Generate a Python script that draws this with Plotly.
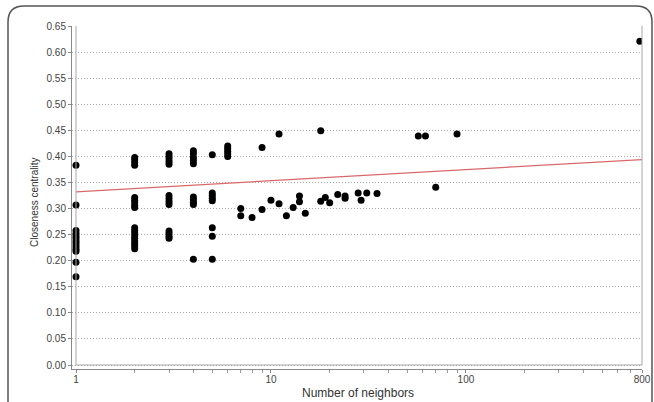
import math
import plotly.graph_objects as go

# ---------------- data ----------------
neighbors = (
    [1] * 13 + [2] * 18 + [3] * 13 + [4] * 10 + [5] * 8 + [6] * 5 +
    [7, 7, 8, 9, 9, 10, 11, 11, 12, 13, 14, 14, 15, 18, 18, 19, 20, 22, 24, 24,
     28, 29, 31, 35, 57, 62, 70, 90, 780]
)
closeness = (
    [0.383, 0.307, 0.258, 0.252, 0.247, 0.242, 0.237, 0.232, 0.227, 0.222, 0.218, 0.197, 0.169] +
    [0.398, 0.393, 0.388, 0.383, 0.321, 0.316, 0.311, 0.306, 0.302,
     0.263, 0.258, 0.253, 0.248, 0.243, 0.238, 0.233, 0.228, 0.223] +
    [0.405, 0.400, 0.395, 0.390, 0.385, 0.325, 0.319, 0.313, 0.308, 0.257, 0.252, 0.247, 0.243] +
    [0.411, 0.405, 0.398, 0.392, 0.386, 0.322, 0.317, 0.312, 0.308, 0.203] +
    [0.403, 0.330, 0.325, 0.320, 0.315, 0.263, 0.247, 0.203] +
    [0.420, 0.415, 0.410, 0.405, 0.400] +
    [0.300, 0.286, 0.283, 0.417, 0.298, 0.316, 0.443, 0.309, 0.286, 0.302, 0.324, 0.313,
     0.291, 0.449, 0.314, 0.321, 0.311, 0.327, 0.324, 0.320, 0.330, 0.316, 0.330, 0.329,
     0.439, 0.439, 0.341, 0.443, 0.621]
)
trend_x = [1, 800]
trend_y = [0.332, 0.394]

x_tickvals = [1, 10, 100, 800]
x_ticktext = ["1", "10", "100", "800"]
x_minor = [2, 3, 4, 5, 6, 7, 8, 9, 20, 30, 40, 50, 60, 70, 80, 90, 200, 300, 400, 500, 600, 700]
y_tickvals = [round(0.05 * i, 2) for i in range(14)]

# ---------------- geometry ----------------
W, H = 654, 402
L, R, T, B = 72, 12, 26, 33          # margins -> plot area 72..642 x 26..369
pw, ph = W - L - R, H - T - B
x_lo = -4 / 195.0                      # log range start (axis offset ~4px)
x_hi = math.log10(800)
y_lo = -4 / 521.5
y_hi = 0.6501

def px2paper(px, py):
    return (px - L) / pw, (H - B - py) / ph

def xpaper(v):
    return (math.log10(v) - x_lo) / (x_hi - x_lo)

def ypaper(v):
    return (v - y_lo) / (y_hi - y_lo)

font_family = "Liberation Sans, Arial, sans-serif"

fig = go.Figure()
fig.add_trace(go.Scatter(
    x=trend_x, y=trend_y, mode="lines",
    line=dict(color="#d9696b", width=1.2), hoverinfo="skip", showlegend=False))
fig.add_trace(go.Scatter(
    x=neighbors, y=closeness, mode="markers",
    marker=dict(color="black", size=7), showlegend=False))

# plot-area border (left, right, bottom)
border_color = "#a8a8a8"
x1p, x2p = xpaper(1), xpaper(800)
y0p, y1p = ypaper(0), ypaper(0.65)
shapes = [
    dict(type="line", xref="paper", yref="paper", x0=x1p, x1=x1p, y0=y0p, y1=y1p,
         line=dict(color=border_color, width=1)),
    dict(type="line", xref="paper", yref="paper", x0=x2p, x1=x2p, y0=y0p, y1=y1p,
         line=dict(color=border_color, width=1)),
    dict(type="line", xref="paper", yref="paper", x0=x1p, x1=x2p, y0=y0p, y1=y0p,
         line=dict(color=border_color, width=1)),
]

# rounded outer frame
fl, ft, fr, fb, rad = 8, 6, 652, 430, 16
def P(px, py):
    a, b = px2paper(px, py)
    return f"{a:.5f},{b:.5f}"
path = (f"M {P(fl, fb)} L {P(fl, ft + rad)} Q {P(fl, ft)} {P(fl + rad, ft)} "
        f"L {P(fr - rad, ft)} Q {P(fr, ft)} {P(fr, ft + rad)} L {P(fr, fb)}")
shapes.append(dict(type="path", xref="paper", yref="paper", path=path,
                   line=dict(color="#555555", width=1.5), layer="above"))

annotations = [
    dict(text="Number of neighbors", xref="paper", yref="paper",
         x=px2paper(358, 0)[0], y=px2paper(0, 393)[1], showarrow=False,
         font=dict(family=font_family, size=12, color="#333"), xanchor="center", yanchor="middle"),
    dict(text="Closeness centrality", xref="paper", yref="paper",
         x=px2paper(34, 0)[0], y=px2paper(0, 203)[1], showarrow=False, textangle=-90,
         font=dict(family=font_family, size=10, color="#333"), xanchor="center", yanchor="middle"),
]

fig.update_layout(
    width=W, height=H,
    margin=dict(l=L, r=R, t=T, b=B, pad=0, autoexpand=False),
    paper_bgcolor="white", plot_bgcolor="white",
    shapes=shapes, annotations=annotations,
    font=dict(family=font_family, size=10, color="#444"),
    xaxis=dict(
        type="log", range=[x_lo, x_hi], automargin=False,
        tickmode="array", tickvals=x_tickvals, ticktext=x_ticktext,
        ticks="outside", ticklen=3, tickcolor="#888",
        ticklabelstandoff=-2,
        showline=True, linecolor="#888", linewidth=1,
        showgrid=False, zeroline=False,
        minor=dict(tickmode="array", tickvals=x_minor, ticks="outside",
                   ticklen=3, tickcolor="#999", showgrid=False),
        tickfont=dict(size=10, color="#444"),
    ),
    yaxis=dict(
        range=[y_lo, y_hi], automargin=False,
        tickmode="array", tickvals=y_tickvals, tickformat=".2f",
        ticks="outside", ticklen=3, tickcolor="#888",
        showline=True, linecolor="#888", linewidth=1,
        showgrid=True, gridcolor="#a8a8a8", griddash="1px,2px", gridwidth=1,
        zeroline=False,
        tickfont=dict(size=10, color="#444"),
    ),
)

fig.write_html("out.html", config={"displayModeBar": False},
               post_script="document.body.style.margin='0';document.body.style.overflow='hidden';")
